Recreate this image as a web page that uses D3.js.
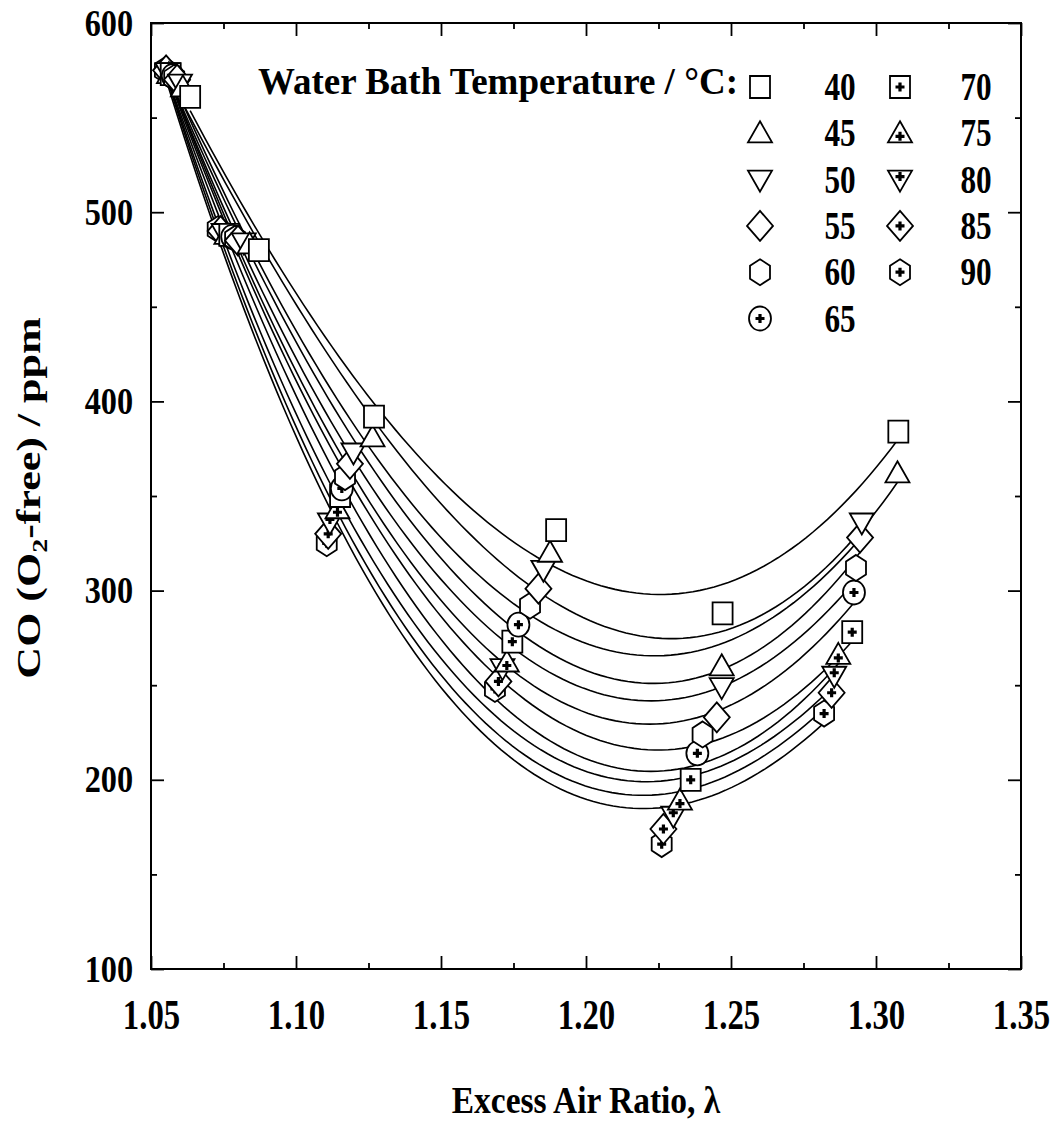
<!DOCTYPE html>
<html>
<head>
<meta charset="utf-8">
<script src="https://cdn.jsdelivr.net/npm/d3@7"></script>
<style>
  body { margin: 0; background: #fff; }
  text { font-family: "Liberation Serif", "Times New Roman", serif; font-weight: bold; fill: #000; }
</style>
</head>
<body>
<div id="chart"></div>
<script>
let width = 1054
let height = 1121

// water bath temperatures (°C) and the marker used for each
let temps = [40, 45, 50, 55, 60, 65, 70, 75, 80, 85, 90]
let shapes = ['square', 'triUp', 'triDown', 'diamond', 'hexagon', 'circle',
              'square', 'triUp', 'triDown', 'diamond', 'hexagon']
let crossed = [false, false, false, false, false, true, true, true, true, true, true]

// measured points, excess air ratio and CO ppm, one pair per temperature
let lam40 = [1.0635, 1.0872, 1.1269, 1.1897, 1.2471, 1.3077]
let co40  = [561, 480, 392, 332, 288, 384]
let lam45 = [1.0610, 1.0840, 1.1264, 1.1876, 1.2468, 1.3074]
let co45  = [566, 483, 381, 320, 260, 362]
let lam50 = [1.0600, 1.0820, 1.1198, 1.1853, 1.2468, 1.2951]
let co50  = [568, 484, 373, 311, 249, 336]
let lam55 = [1.0590, 1.0800, 1.1186, 1.1836, 1.2451, 1.2945]
let co55  = [570, 485, 367, 301, 233, 328]
let lam60 = [1.0580, 1.0790, 1.1169, 1.1807, 1.2402, 1.2931]
let co60  = [571, 486, 360, 292, 224, 312]
let lam65 = [1.0575, 1.0780, 1.1158, 1.1767, 1.2384, 1.2924]
let co65  = [572, 487, 354, 282, 214, 299]
let lam70 = [1.0568, 1.0770, 1.1152, 1.1746, 1.2361, 1.2918]
let co70  = [573, 488, 350, 273, 200, 278]
let lam75 = [1.0562, 1.0760, 1.1143, 1.1727, 1.2324, 1.2870]
let co75  = [573, 488, 343, 262, 189, 266]
let lam80 = [1.0557, 1.0750, 1.1117, 1.1712, 1.2301, 1.2856]
let co80  = [574, 489, 336, 259, 181, 255]
let lam85 = [1.0552, 1.0740, 1.1111, 1.1698, 1.2267, 1.2847]
let co85  = [575, 490, 330, 252, 174, 246]
let lam90 = [1.0548, 1.0730, 1.1106, 1.1686, 1.2261, 1.2821]
let co90  = [575, 491, 325, 248, 166, 235]

let lams = [lam40, lam45, lam50, lam55, lam60, lam65, lam70, lam75, lam80, lam85, lam90]
let cos = [co40, co45, co50, co55, co60, co65, co70, co75, co80, co85, co90]

// axis ticks
let xMajor = [1.05, 1.10, 1.15, 1.20, 1.25, 1.30, 1.35]
let xMinor = [1.075, 1.125, 1.175, 1.225, 1.275, 1.325]
let yMajor = [100, 200, 300, 400, 500, 600]
let yMinor = [150, 250, 350, 450, 550]

let series = temps.map((t, i) => ({
  temp: t,
  shape: shapes[i],
  crossed: crossed[i],
  points: lams[i].map((l, k) => ({ x: l, y: cos[i][k] }))
}))

let svg = d3.select("#chart")
  .append("svg")
  .attr("width", width)
  .attr("height", height)
  .style("background", "#fff")

let x = d3.scaleLinear().domain([1.05, 1.35]).range([151, 1021])
let y = d3.scaleLinear().domain([100, 600]).range([969, 23])

// cubic least squares fit, like the smoothed lines of the original plot
function fitCubic(pts) {
  let n = 4
  let A = d3.range(n).map(() => new Array(n).fill(0))
  let b = new Array(n).fill(0)
  let u = v => (v - 1.18) / 0.1
  pts.forEach(p => {
    let t = u(p.x)
    let row = [1, t, t * t, t * t * t]
    for (let i = 0; i < n; i++) {
      b[i] += row[i] * p.y
      for (let j = 0; j < n; j++) A[i][j] += row[i] * row[j]
    }
  })
  // gaussian elimination
  for (let c = 0; c < n; c++) {
    let piv = c
    for (let r = c + 1; r < n; r++) if (Math.abs(A[r][c]) > Math.abs(A[piv][c])) piv = r
    ;[A[c], A[piv]] = [A[piv], A[c]]
    ;[b[c], b[piv]] = [b[piv], b[c]]
    for (let r = c + 1; r < n; r++) {
      let f = A[r][c] / A[c][c]
      for (let k = c; k < n; k++) A[r][k] -= f * A[c][k]
      b[r] -= f * b[c]
    }
  }
  let coef = new Array(n).fill(0)
  for (let r = n - 1; r >= 0; r--) {
    let s = b[r]
    for (let k = r + 1; k < n; k++) s -= A[r][k] * coef[k]
    coef[r] = s / A[r][r]
  }
  return v => {
    let t = u(v)
    return coef[0] + coef[1] * t + coef[2] * t * t + coef[3] * t * t * t
  }
}

let line = d3.line()
  .x(d => x(d.x))
  .y(d => y(d.y))

let curves = svg.append("g")
series.forEach(s => {
  let f = fitCubic(s.points)
  let [lo, hi] = d3.extent(s.points, p => p.x)
  let pts = d3.range(0, 101).map(i => {
    let v = lo + (hi - lo) * i / 100
    return { x: v, y: f(v) }
  })
  curves.append("path")
    .attr("d", line(pts))
    .attr("fill", "none")
    .attr("stroke", "#000")
    .attr("stroke-width", 1.6)
})

function shapePath(shape) {
  if (shape == 'square') return "M-10,-11H10V11H-10Z"
  if (shape == 'triUp') return "M0,-12L12,9H-12Z"
  if (shape == 'triDown') return "M0,12L12,-9H-12Z"
  if (shape == 'diamond') return "M0,-15L13,0L0,15L-13,0Z"
  if (shape == 'hexagon') return "M0,-13L10,-6.5V6.5L0,13L-10,6.5V-6.5Z"
  return "M11,0A11,12 0 1,1 -11,0A11,12 0 1,1 11,0Z"
}

function drawMarker(g, s) {
  g.append("path")
    .attr("d", shapePath(s.shape))
    .attr("fill", "#fff")
    .attr("stroke", "#000")
    .attr("stroke-width", 1.8)
  if (s.crossed) {
    let dy = s.shape == 'triUp' ? 3 : (s.shape == 'triDown' ? -3 : 0)
    g.append("path")
      .attr("d", `M-4.5,${dy}H4.5M0,${dy - 4.5}V${dy + 4.5}`)
      .attr("stroke", "#000")
      .attr("stroke-width", 3.2)
  }
}

// markers, highest temperature first so 40 °C sits on top
let marks = svg.append("g")
series.slice().reverse().forEach(s => {
  s.points.forEach(p => {
    let g = marks.append("g").attr("transform", `translate(${x(p.x)},${y(p.y)})`)
    drawMarker(g, s)
  })
})

// frame and ticks
svg.append("rect")
  .attr("x", 151).attr("y", 23)
  .attr("width", 870).attr("height", 946)
  .attr("fill", "none")
  .attr("stroke", "#000")
  .attr("stroke-width", 2)

function tickAxis(axis, tr, vals, size) {
  let g = svg.append("g")
    .attr("transform", tr)
    .call(axis.tickValues(vals).tickSize(-size).tickFormat(""))
  g.select(".domain").remove()
  g.selectAll("line").attr("stroke-width", 1.8)
  return g
}
tickAxis(d3.axisBottom(x), "translate(0,969)", xMinor, 6)
tickAxis(d3.axisTop(x), "translate(0,23)", xMinor, 6)
tickAxis(d3.axisTop(x), "translate(0,23)", xMajor, 13)
tickAxis(d3.axisLeft(y), "translate(151,0)", yMinor, 6)
tickAxis(d3.axisRight(y), "translate(1021,0)", yMinor, 6)
tickAxis(d3.axisRight(y), "translate(1021,0)", yMajor, 13)

let xAxis = svg.append("g")
  .attr("transform", "translate(0,969)")
  .call(d3.axisBottom(x).tickValues(xMajor).tickSize(-13).tickPadding(30).tickFormat(d3.format(".2f")))
xAxis.select(".domain").remove()
xAxis.selectAll("line").attr("stroke-width", 1.8)
xAxis.selectAll("text")
  .attr("font-size", 42)
  .attr("font-family", null)
  .attr("transform", "scale(0.78,1)")

let yAxis = svg.append("g")
  .attr("transform", "translate(151,0)")
  .call(d3.axisLeft(y).tickValues(yMajor).tickSize(-13).tickPadding(21).tickFormat(d3.format("d")))
yAxis.select(".domain").remove()
yAxis.selectAll("line").attr("stroke-width", 1.8)
yAxis.selectAll("text")
  .attr("font-size", 38)
  .attr("font-family", null)
  .attr("transform", "scale(0.85,1)")

// axis titles
svg.append("text")
  .attr("transform", "translate(586,1113) scale(0.88,1)")
  .attr("text-anchor", "middle")
  .attr("font-size", 38)
  .text("Excess Air Ratio, λ")

let yTitle = svg.append("text")
  .attr("transform", "translate(40,498) rotate(-90) scale(1,0.78)")
  .attr("text-anchor", "middle")
  .attr("font-size", 44)
yTitle.append("tspan").text("CO (O")
yTitle.append("tspan").attr("font-size", 28).attr("dy", 9).text("2")
yTitle.append("tspan").attr("dy", -9).text("-free) / ppm")

// legend
svg.append("text")
  .attr("x", 738).attr("y", 94)
  .attr("text-anchor", "end")
  .attr("font-size", 37)
  .text("Water Bath Temperature / °C:")

series.forEach((s, i) => {
  let col = i < 6 ? 0 : 1
  let row = i < 6 ? i : i - 6
  let mx = col == 0 ? 760 : 900
  let lx = col == 0 ? 840 : 976
  let ly = 87 + row * 46.3
  let g = svg.append("g").attr("transform", `translate(${mx},${ly})`)
  drawMarker(g, s)
  svg.append("text")
    .attr("transform", `translate(${lx},${ly + 13}) scale(0.78,1)`)
    .attr("text-anchor", "middle")
    .attr("font-size", 40)
    .text(s.temp)
})
</script>
</body>
</html>
